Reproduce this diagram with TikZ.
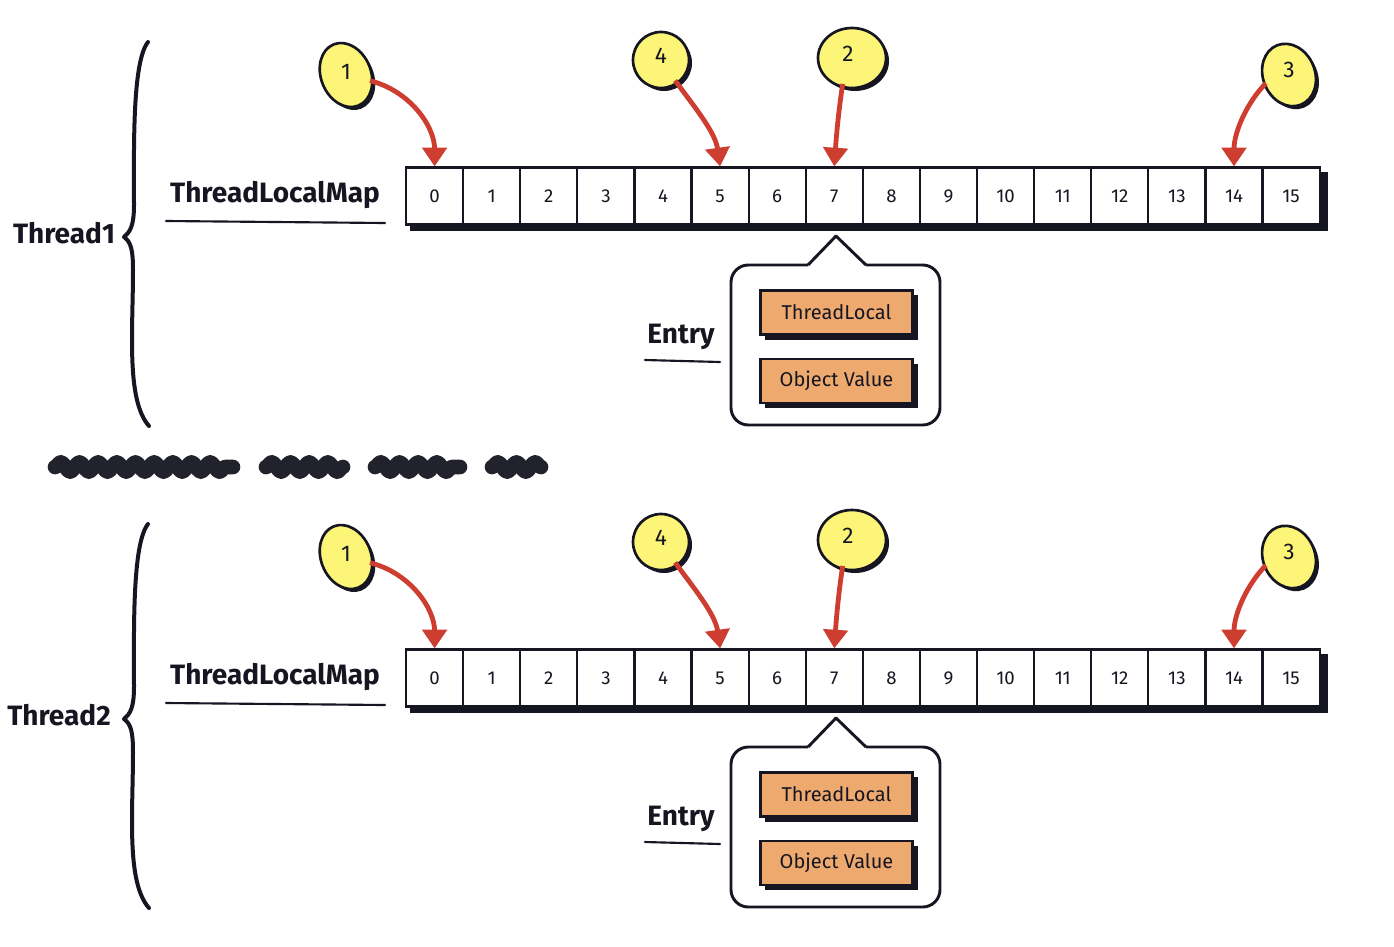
\documentclass[tikz,border=0pt]{standalone}
\usepackage{fontspec}
\setmainfont{Fira Sans}
\usetikzlibrary{arrows.meta,shapes.geometric,decorations.pathmorphing}
\definecolor{ink}{RGB}{22,22,34}
\definecolor{bubble}{RGB}{252,245,120}
\definecolor{orangebox}{RGB}{238,170,110}
\definecolor{arrowred}{RGB}{205,62,48}
\tikzset{
  cell/.style={draw=ink, fill=white, line width=1.6pt, minimum width=42.8pt, minimum height=42.8pt, inner sep=0pt, font=\fontsize{14}{14}\selectfont, text=ink},
  bubbletext/.style={ellipse, inner sep=0pt, font=\fontsize{17}{17}\selectfont, text=ink},
  bubblefill/.style={draw=ink, fill=bubble, line width=2pt},
  ptr/.style={draw=arrowred, line width=3.6pt, -{Triangle[width=18pt,length=14pt]}},
  biglabel/.style={font=\bfseries\fontsize{21}{21}\selectfont, text=ink, inner sep=0pt},
  fieldbox/.style={draw=ink, fill=orangebox, line width=1.6pt, minimum width=114pt, minimum height=33pt, inner sep=0pt, font=\fontsize{15}{15}\selectfont, text=ink},
  uline/.style={draw=ink, line width=1.6pt, line cap=round},
  callout/.style={draw=ink, line width=2.2pt, line join=round},
  bracestyle/.style={draw=ink, line width=3pt, line cap=round, line join=round},
  scribble/.style={draw=ink!95!white, line width=11pt, line cap=round, line join=round, decorate, decoration={snake, amplitude=3.5pt, segment length=14pt}}
}
\newcommand\bubbleshape[5]{% x,y,rx,ry,angle
  \fill[ink, rotate around={#5:(#1+3,#2+3)}] (#1+3,#2+3) ellipse [x radius=#3, y radius=#4];
  \path[bubblefill, rotate around={#5:(#1,#2)}] (#1,#2) ellipse [x radius=#3, y radius=#4];
}
\newcommand\drawthread[3]{% prefix, label, label x
  % brace
  \draw[bracestyle] (148,42) .. controls (132,62) and (134,150) .. (134,205)
     .. controls (134,226) and (130,232) .. (124,237)
     .. controls (131,242) and (133,250) .. (133,270)
     .. controls (133,330) and (126,400) .. (149,426);
  \node[biglabel] (#1thread) at (#3,233) {#2};
  % map label
  \node[biglabel] (#1map) at (275,195) {ThreadLocalMap};
  \draw[uline] (166,221) -- (385,223);
  % array
  \fill[ink] (410,172) rectangle (1328,231);
  \foreach \i in {0,...,15} {
    \node[cell] (#1c\i) at ({434.6+57.1*\i},196) {\i};
  }
  % bubbles
  \bubbleshape{346}{75}{25}{33}{22}
  \node[bubbletext, minimum width=37pt, minimum height=48pt] (#1b1) at (346,72) {1};
  \bubbleshape{661}{60}{28}{28}{0}
  \node[bubbletext, minimum width=42pt, minimum height=42pt] (#1b4) at (661,56) {4};
  \bubbleshape{852}{58}{34}{30}{0}
  \node[bubbletext, minimum width=50pt, minimum height=45pt] (#1b2) at (848,54) {2};
  \bubbleshape{1289}{75}{26}{32}{22}
  \node[bubbletext, minimum width=38pt, minimum height=47pt] (#1b3) at (1289,70) {3};
  % pointers
  \draw[ptr] (#1b1.-20) .. controls +(40,10) and +(0,-40) .. (#1c0.north);
  \draw[ptr] (#1b4.-60) .. controls +(18,25) and +(-5,-35) .. (#1c5.north);
  \draw[ptr] (#1b2.-100) .. controls +(-4,25) and +(2,-30) .. (#1c7.north);
  \draw[ptr] (#1b3.-150) .. controls +(-18,18) and +(0,-35) .. (#1c14.north);
  % entry callout
  \draw[callout, rounded corners=13pt] (866,265) -- (940,265) -- (940,425) -- (731,425) -- (731,265) -- (808,265);
  \draw[callout] (808,265) -- (836,236) -- (866,265);
  \fill[ink] (765,295) rectangle (918,340);
  \fill[ink] (765,364) rectangle (918,408);
  \node[fieldbox] (#1tl) at (836.5,312.5) {ThreadLocal};
  \node[fieldbox] (#1ov) at (836.5,381) {Object Value};
  \node[biglabel] (#1entry) at (681,337) {Entry};
  \draw[uline] (645,360) -- (720,362);
}
\begin{document}
\begin{tikzpicture}[x=0.75pt,y=-0.75pt]
  \useasboundingbox (0,0) rectangle (1394,946);
  \fill[white] (0,0) rectangle (1394,946);
  \begin{scope}
    \drawthread{u}{Thread1}{64}
  \end{scope}
  \begin{scope}[shift={(0,482)}]
    \drawthread{d}{Thread2}{59}
  \end{scope}
  % scribbled-out separator
  \draw[scribble] (55,467) -- (233,467);
  \draw[scribble] (266,467) -- (343,467);
  \draw[scribble] (375,467) -- (460,467);
  \draw[scribble] (492,467) -- (541,467);
\end{tikzpicture}
\end{document}
